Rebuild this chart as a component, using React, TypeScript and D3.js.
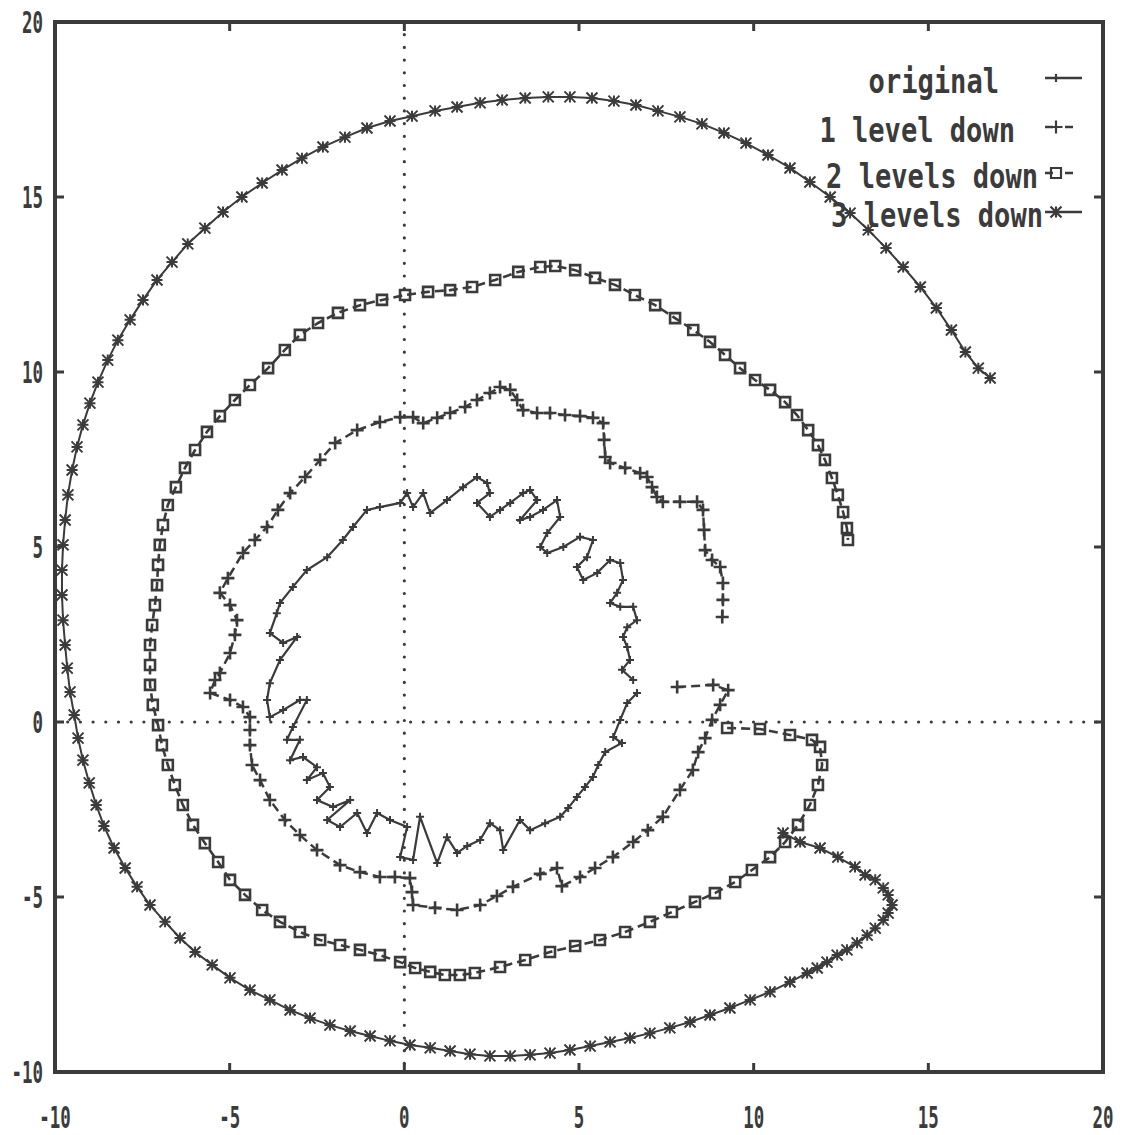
import * as d3 from "d3";
import * as React from "react";

// values (x, y pairs)
const xTicks = [-10, -5, 0, 5, 10, 15, 20];
const yTicks = [-10, -5, 0, 5, 10, 15, 20];
const seriesNames = ["original", "1 level down", "2 levels down", "3 levels down"];

const original: [number, number][] = [
  [6.66, 0.83], [6.38, 0.54], [6.18, 0.06], [5.98, -0.43], [6.23, -0.6], [5.75, -0.86],
  [5.55, -1.23], [5.4, -1.57], [5.17, -1.86], [4.94, -2.14], [4.69, -2.46], [4.46, -2.71],
  [4.03, -2.89], [3.6, -3.09], [3.31, -2.8], [2.83, -3.66], [2.74, -3.09], [2.45, -2.89],
  [2.17, -3.37], [1.8, -3.54], [1.51, -3.74], [1.22, -3.29], [0.94, -4.03], [0.45, -2.71],
  [0.25, -3.94], [-0.12, -3.86], [0.08, -3.0], [-0.41, -2.8], [-0.78, -2.6], [-1.07, -3.17],
  [-1.35, -2.6], [-1.84, -3.0], [-2.21, -2.8], [-1.55, -2.23], [-2.04, -2.43], [-2.5, -2.23],
  [-2.13, -1.86], [-2.33, -1.46], [-2.79, -1.66], [-2.5, -1.29], [-2.9, -1.0], [-3.27, -1.09],
  [-2.99, -0.51], [-3.36, -0.51], [-3.19, -0.14], [-2.79, 0.63], [-2.99, 0.63], [-3.47, 0.34],
  [-3.85, 0.14], [-3.93, 0.63], [-3.85, 1.11], [-3.56, 1.77], [-3.07, 2.43], [-3.47, 2.26],
  [-3.85, 2.54], [-3.65, 3.11], [-3.56, 3.4], [-3.19, 3.86], [-2.79, 4.34], [-2.21, 4.71],
  [-1.76, 5.2], [-1.47, 5.57], [-1.07, 6.06], [-0.7, 6.14], [-0.12, 6.26], [0.08, 6.54],
  [0.25, 6.14], [0.54, 6.54], [0.74, 5.97], [1.22, 6.34], [1.68, 6.71], [2.08, 7.0],
  [2.37, 6.83], [2.45, 6.54], [2.08, 6.26], [2.45, 5.86], [2.74, 6.06], [3.03, 6.26],
  [3.4, 6.54], [3.6, 6.63], [3.8, 6.34], [3.31, 5.77], [3.6, 5.86], [3.97, 6.06],
  [4.37, 6.34], [4.46, 5.86], [4.09, 5.4], [3.89, 5.0], [4.09, 4.83], [4.55, 5.0],
  [5.03, 5.29], [5.4, 5.2], [5.23, 4.71], [4.94, 4.43], [5.12, 4.06], [5.52, 4.26],
  [5.89, 4.63], [6.18, 4.54], [6.26, 4.06], [6.09, 3.69], [5.89, 3.4], [6.18, 3.29],
  [6.55, 3.29], [6.66, 2.91], [6.38, 2.71], [6.26, 2.43], [6.38, 2.14], [6.46, 1.77],
  [6.23, 1.49], [6.55, 1.2],
];

const oneLevelDown: [number, number][] = [
  [7.81, 1.0], [8.84, 1.06], [9.27, 0.91], [9.04, 0.49], [8.81, 0.06], [8.61, -0.46],
  [8.41, -0.86], [8.26, -1.37], [7.89, -1.94], [7.4, -2.71], [6.97, -3.09], [6.55, -3.43],
  [5.97, -3.86], [5.46, -4.17], [5.03, -4.43], [4.51, -4.69], [4.37, -4.17], [3.89, -4.34],
  [3.11, -4.71], [2.65, -4.97], [2.17, -5.23], [1.51, -5.37], [0.88, -5.31], [0.25, -5.23],
  [0.22, -4.86], [0.16, -4.46], [-0.27, -4.43], [-0.7, -4.43], [-1.27, -4.29], [-1.84, -4.09],
  [-2.5, -3.66], [-2.99, -3.23], [-3.42, -2.8], [-3.85, -2.23], [-4.13, -1.66], [-4.36, -1.23],
  [-4.42, -0.66], [-4.42, -0.23], [-4.42, 0.14], [-4.62, 0.43], [-4.99, 0.63], [-5.56, 0.83],
  [-5.42, 1.2], [-5.28, 1.4], [-4.99, 1.97], [-4.85, 2.49], [-4.79, 2.91], [-4.99, 3.34],
  [-5.28, 3.69], [-5.05, 4.11], [-4.62, 4.83], [-4.28, 5.2], [-3.93, 5.57], [-3.62, 6.06],
  [-3.27, 6.54], [-2.84, 7.0], [-2.41, 7.49], [-1.98, 7.97], [-1.35, 8.34], [-0.7, 8.57],
  [-0.12, 8.71], [0.25, 8.71], [0.54, 8.54], [0.94, 8.69], [1.31, 8.83], [1.74, 9.0],
  [2.08, 9.2], [2.45, 9.4], [2.74, 9.57], [3.03, 9.49], [3.23, 9.2], [3.4, 8.91],
  [3.8, 8.83], [4.17, 8.83], [4.6, 8.77], [5.03, 8.74], [5.4, 8.69], [5.69, 8.54],
  [5.72, 8.06], [5.75, 7.57], [5.89, 7.4], [6.32, 7.26], [6.75, 7.11], [6.95, 7.0],
  [7.09, 6.71], [7.23, 6.43], [7.4, 6.29], [7.89, 6.29], [8.38, 6.29], [8.55, 6.06],
  [8.58, 5.49], [8.61, 4.91], [8.81, 4.63], [9.04, 4.43], [9.12, 3.97], [9.12, 3.49],
  [9.1, 3.0],
];

const twoLevelsDown: [number, number][] = [
  [9.24, -0.17], [10.18, -0.2], [11.04, -0.37], [11.67, -0.51], [11.9, -0.71], [11.96, -1.23],
  [11.84, -1.8], [11.61, -2.37], [11.27, -2.94], [10.9, -3.43], [10.47, -3.86], [9.95, -4.23],
  [9.47, -4.57], [8.89, -4.89], [8.32, -5.14], [7.66, -5.43], [7.03, -5.71], [6.32, -6.0],
  [5.6, -6.23], [4.89, -6.4], [4.17, -6.57], [3.46, -6.8], [2.74, -7.0], [2.02, -7.17],
  [1.59, -7.23], [1.16, -7.23], [0.74, -7.14], [0.31, -7.03], [-0.12, -6.86], [-0.7, -6.66],
  [-1.27, -6.51], [-1.84, -6.37], [-2.41, -6.23], [-2.99, -6.0], [-3.56, -5.71], [-4.07, -5.37],
  [-4.56, -4.94], [-4.99, -4.51], [-5.33, -4.0], [-5.71, -3.46], [-6.05, -2.94], [-6.34, -2.37],
  [-6.57, -1.8], [-6.77, -1.23], [-6.94, -0.66], [-7.05, -0.09], [-7.2, 0.49], [-7.28, 1.06],
  [-7.28, 1.63], [-7.28, 2.2], [-7.22, 2.77], [-7.14, 3.34], [-7.08, 3.91], [-7.05, 4.49],
  [-7.0, 5.06], [-6.91, 5.63], [-6.77, 6.2], [-6.54, 6.71], [-6.28, 7.26], [-5.99, 7.77],
  [-5.65, 8.29], [-5.28, 8.74], [-4.85, 9.2], [-4.42, 9.63], [-3.9, 10.11], [-3.42, 10.63],
  [-2.99, 11.06], [-2.47, 11.4], [-1.9, 11.69], [-1.27, 11.91], [-0.64, 12.06], [0.02, 12.2],
  [0.68, 12.29], [1.31, 12.34], [1.94, 12.43], [2.6, 12.63], [3.26, 12.86], [3.89, 13.0],
  [4.32, 13.03], [4.89, 12.91], [5.46, 12.69], [6.03, 12.49], [6.6, 12.2], [7.18, 11.91],
  [7.75, 11.54], [8.27, 11.2], [8.75, 10.86], [9.18, 10.49], [9.61, 10.11], [10.04, 9.77],
  [10.47, 9.49], [10.9, 9.14], [11.24, 8.77], [11.56, 8.34], [11.84, 7.91], [12.04, 7.49],
  [12.24, 6.97], [12.41, 6.49], [12.56, 6.0], [12.67, 5.54], [12.7, 5.2],
];

const threeLevelsDown: [number, number][] = [
  [10.84, -3.17], [11.33, -3.43], [11.9, -3.6], [12.41, -3.86], [12.9, -4.14], [13.19, -4.37],
  [13.48, -4.51], [13.71, -4.74], [13.85, -4.94], [13.96, -5.23], [13.85, -5.46], [13.71, -5.66],
  [13.48, -5.89], [13.25, -6.09], [12.96, -6.31], [12.67, -6.51], [12.39, -6.66], [12.1, -6.86],
  [11.82, -7.03], [11.53, -7.17], [11.04, -7.43], [10.47, -7.71], [9.9, -7.94], [9.32, -8.17],
  [8.75, -8.37], [8.18, -8.57], [7.6, -8.74], [7.03, -8.89], [6.46, -9.03], [5.89, -9.14],
  [5.32, -9.26], [4.74, -9.37], [4.17, -9.46], [3.6, -9.51], [3.03, -9.54], [2.45, -9.54],
  [1.88, -9.49], [1.31, -9.4], [0.74, -9.31], [0.16, -9.23], [-0.41, -9.11], [-0.98, -8.97],
  [-1.55, -8.83], [-2.13, -8.66], [-2.7, -8.46], [-3.27, -8.23], [-3.85, -7.94], [-4.42, -7.66],
  [-4.99, -7.31], [-5.5, -6.94], [-5.99, -6.57], [-6.42, -6.17], [-6.85, -5.71], [-7.28, -5.23],
  [-7.65, -4.71], [-7.99, -4.17], [-8.31, -3.6], [-8.6, -2.97], [-8.82, -2.37], [-9.02, -1.74],
  [-9.2, -1.09], [-9.34, -0.46], [-9.45, 0.2], [-9.57, 0.86], [-9.65, 1.54], [-9.71, 2.2],
  [-9.77, 2.91], [-9.8, 3.63], [-9.8, 4.34], [-9.77, 5.06], [-9.71, 5.77], [-9.63, 6.49],
  [-9.51, 7.2], [-9.37, 7.86], [-9.2, 8.49], [-9.0, 9.11], [-8.77, 9.71], [-8.49, 10.34],
  [-8.2, 10.91], [-7.85, 11.49], [-7.48, 12.06], [-7.08, 12.63], [-6.65, 13.14], [-6.2, 13.66],
  [-5.71, 14.11], [-5.19, 14.57], [-4.65, 15.0], [-4.07, 15.4], [-3.5, 15.77], [-2.93, 16.11],
  [-2.33, 16.43], [-1.7, 16.71], [-1.07, 16.97], [-0.41, 17.17], [0.22, 17.31], [0.88, 17.46],
  [1.51, 17.57], [2.17, 17.69], [2.8, 17.77], [3.46, 17.83], [4.12, 17.86], [4.74, 17.86],
  [5.37, 17.83], [6.0, 17.74], [6.63, 17.63], [7.26, 17.46], [7.89, 17.29], [8.52, 17.09],
  [9.15, 16.83], [9.78, 16.54], [10.41, 16.2], [11.04, 15.83], [11.61, 15.43], [12.19, 15.0],
  [12.76, 14.54], [13.28, 14.06], [13.79, 13.54], [14.28, 13.0], [14.77, 12.43], [15.23, 11.83],
  [15.66, 11.2], [16.06, 10.57], [16.43, 10.11], [16.77, 9.83],
];

const INK = "#3b3b3b";

// marker shapes, centred on 0,0
const markerPath = (kind: string, s: number) => {
  if (kind === "plus") return `M${-s},0H${s}M0,${-s}V${s}`;
  if (kind === "square") return `M${-s},${-s}H${s}V${s}H${-s}Z`;
  return `M${-s},0H${s}M0,${-s}V${s}M${-s},${-s}L${s},${s}M${-s},${s}L${s},${-s}`;
};

const styles = [
  { marker: "plus", size: 4, width: 2.2, mw: 2, dash: null },
  { marker: "plus", size: 6.5, width: 2.5, mw: 2.6, dash: "9 5" },
  { marker: "square", size: 5, width: 2.6, mw: 2.6, dash: "9 5" },
  { marker: "star", size: 5.5, width: 2, mw: 2, dash: null },
];

export default function App() {
  const width = 1126;
  const height = 1135;
  const margin = { top: 22, right: 23, bottom: 63, left: 55 };

  const x = d3.scaleLinear().domain([-10, 20]).range([margin.left, width - margin.right]);
  const y = d3.scaleLinear().domain([-10, 20]).range([height - margin.bottom, margin.top]);

  const line = d3
    .line<[number, number]>()
    .x((d) => x(d[0]))
    .y((d) => y(d[1]));

  const allSeries = [original, oneLevelDown, twoLevelsDown, threeLevelsDown];

  // legend rows as placed in the scan
  const legendBase = [93, 142, 188, 227];
  const legendEnd = [999, 1015, 1038, 1043];

  const monoFont = "'DejaVu Sans Mono', monospace";

  return (
    <svg
      width={width}
      height={height}
      style={{ position: "absolute", left: 0, top: 0, background: "#fff" }}
    >
      {/* dotted zero axes */}
      <line
        x1={x(0)} x2={x(0)} y1={y(20)} y2={y(-10)}
        stroke={INK} strokeWidth={3.2} strokeLinecap="round" strokeDasharray="0 12.7"
      />
      <line
        x1={x(-10)} x2={x(20)} y1={y(0)} y2={y(0)}
        stroke={INK} strokeWidth={3.2} strokeLinecap="round" strokeDasharray="0 12.7"
      />

      {/* series */}
      {allSeries.map((data, i) => {
        const st = styles[i];
        const mp = markerPath(st.marker, st.size);
        return (
          <g key={i} fill="none" stroke={INK}>
            <path
              d={line(data) || ""}
              strokeWidth={st.width}
              strokeDasharray={st.dash || undefined}
            />
            {data.map((d, j) => (
              <path
                key={j}
                d={mp}
                transform={`translate(${x(d[0])},${y(d[1])})`}
                strokeWidth={st.mw}
              />
            ))}
          </g>
        );
      })}

      {/* ticks */}
      {xTicks.map((t) => (
        <g key={"xt" + t} stroke={INK} strokeWidth={3}>
          <line x1={x(t)} x2={x(t)} y1={y(-10)} y2={y(-10) - 9} />
          <line x1={x(t)} x2={x(t)} y1={y(20)} y2={y(20) + 9} />
        </g>
      ))}
      {yTicks.map((t) => (
        <g key={"yt" + t} stroke={INK} strokeWidth={3}>
          <line x1={x(-10)} x2={x(-10) + 9} y1={y(t)} y2={y(t)} />
          <line x1={x(20)} x2={x(20) - 9} y1={y(t)} y2={y(t)} />
        </g>
      ))}

      {/* frame */}
      <rect
        x={x(-10)} y={y(20)} width={x(20) - x(-10)} height={y(-10) - y(20)}
        fill="none" stroke={INK} strokeWidth={4}
      />

      {/* tick labels */}
      {xTicks.map((t) => {
        const s = String(t);
        return (
          <text
            key={"xl" + t} x={x(t)} y={height - 7} textAnchor="middle"
            fontFamily={monoFont} fontSize={30} fontWeight="bold" fill={INK}
            textLength={10.5 * s.length} lengthAdjust="spacingAndGlyphs"
          >
            {s}
          </text>
        );
      })}
      {yTicks.map((t) => {
        const s = String(t);
        return (
          <text
            key={"yl" + t} x={43} y={y(t) + 11} textAnchor="end"
            fontFamily={monoFont} fontSize={30} fontWeight="bold" fill={INK}
            textLength={10.5 * s.length} lengthAdjust="spacingAndGlyphs"
          >
            {s}
          </text>
        );
      })}

      {/* legend */}
      {seriesNames.map((name, i) => {
        const st = styles[i];
        const ly = legendBase[i] - 15;
        return (
          <g key={"lg" + i}>
            <text
              x={legendEnd[i]} y={legendBase[i]} textAnchor="end"
              fontFamily={monoFont} fontSize={34} fontWeight="bold" fill={INK}
              textLength={16.3 * name.length} lengthAdjust="spacingAndGlyphs"
            >
              {name}
            </text>
            <g fill="none" stroke={INK}>
              <line
                x1={1045} x2={1082} y1={ly} y2={ly}
                strokeWidth={2.4} strokeDasharray={st.dash ? "8 12" : undefined}
              />
              <path
                d={markerPath(st.marker, st.size)}
                transform={`translate(1056,${ly})`}
                strokeWidth={2.2}
              />
            </g>
          </g>
        );
      })}
    </svg>
  );
}
